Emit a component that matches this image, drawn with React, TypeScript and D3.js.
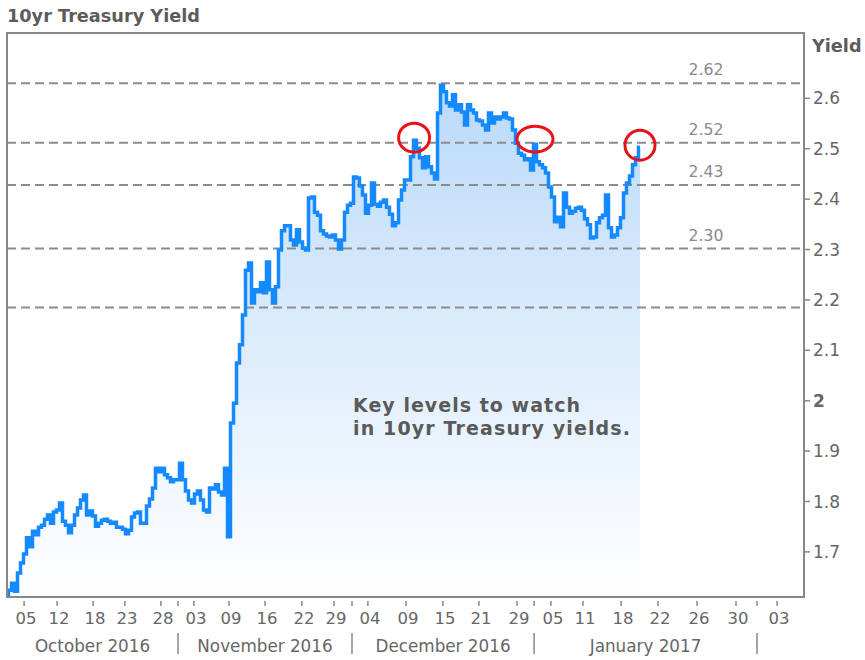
import React from "react";
import * as d3 from "d3";

// 10yr Treasury yield, equally spaced samples (session index 0..211)
const yields: number[] = [
  1.611, 1.624, 1.638, 1.622, 1.658, 1.678, 1.696, 1.728, 1.710, 1.741,
  1.734, 1.749, 1.753, 1.765, 1.773, 1.757, 1.779, 1.783, 1.797, 1.761,
  1.753, 1.738, 1.753, 1.773, 1.787, 1.803, 1.813, 1.773, 1.781, 1.771,
  1.751, 1.757, 1.763, 1.765, 1.761, 1.757, 1.759, 1.749, 1.749, 1.745,
  1.736, 1.743, 1.769, 1.777, 1.779, 1.757, 1.757, 1.791, 1.805, 1.827,
  1.866, 1.859, 1.866, 1.853, 1.847, 1.839, 1.843, 1.843, 1.876, 1.843,
  1.821, 1.803, 1.797, 1.815, 1.821, 1.803, 1.783, 1.779, 1.827, 1.825,
  1.833, 1.819, 1.813, 1.866, 1.730, 1.956, 1.995, 2.075, 2.111, 2.170,
  2.259, 2.273, 2.194, 2.220, 2.216, 2.234, 2.214, 2.275, 2.220, 2.194,
  2.226, 2.299, 2.337, 2.347, 2.347, 2.319, 2.309, 2.339, 2.315, 2.303,
  2.299, 2.402, 2.404, 2.374, 2.368, 2.337, 2.331, 2.327, 2.325, 2.329,
  2.319, 2.301, 2.319, 2.374, 2.388, 2.392, 2.444, 2.442, 2.426, 2.408,
  2.372, 2.388, 2.432, 2.390, 2.386, 2.394, 2.398, 2.384, 2.370, 2.347,
  2.353, 2.398, 2.418, 2.438, 2.438, 2.484, 2.517, 2.501, 2.482, 2.462,
  2.484, 2.464, 2.452, 2.440, 2.571, 2.626, 2.613, 2.591, 2.585, 2.607,
  2.577, 2.587, 2.573, 2.547, 2.587, 2.577, 2.571, 2.557, 2.555, 2.547,
  2.537, 2.571, 2.551, 2.563, 2.559, 2.563, 2.571, 2.561, 2.559, 2.537,
  2.511, 2.491, 2.487, 2.478, 2.480, 2.458, 2.509, 2.474, 2.468, 2.462,
  2.452, 2.424, 2.404, 2.355, 2.364, 2.345, 2.412, 2.384, 2.372, 2.376,
  2.382, 2.384, 2.378, 2.361, 2.349, 2.323, 2.325, 2.353, 2.363, 2.368,
  2.408, 2.343, 2.325, 2.329, 2.343, 2.363, 2.412, 2.432, 2.446, 2.468,
  2.482, 2.503,
];

// x axis: tick positions in session-index units and their day labels
const xTickPos = [5.7, 16.7, 28.7, 39.3, 51.3, 62.3, 74, 86, 98.3, 109, 120.3, 133, 145.3, 157.3, 170, 181.3, 192, 204.7, 217, 230, 243, 256.7];
const xTickLabels = ["05", "12", "18", "23", "28", "03", "09", "16", "22", "29", "04", "09", "15", "21", "29", "05", "11", "18", "22", "26", "30", "03"];
const monthBounds = [57, 115, 175.7, 250];
const monthLabels = ["October 2016", "November 2016", "December 2016", "January 2017"];

const yTicks = [1.7, 1.8, 1.9, 2.0, 2.1, 2.2, 2.3, 2.4, 2.5, 2.6];
const yTickLabels = ["1.7", "1.8", "1.9", "2", "2.1", "2.2", "2.3", "2.4", "2.5", "2.6"];

// key levels (dashed lines) and their labels
const levelValues = [2.63, 2.512, 2.428, 2.302, 2.185];
const levelLabels = ["2.62", "2.52", "2.43", "2.30", ""];

// red circle annotations (session index, yield)
const circleT = [135.7, 176, 211];
const circleV = [2.522, 2.519, 2.507];
const circleRx = [15.5, 18, 15];
const circleRy = [14.5, 13, 15];

const noteLines = ["Key levels to watch", "in 10yr Treasury yields."];

const W = 865;
const H = 660;
const L = 7, R = 804, T = 33, B = 597;
const FONT = "'DejaVu Sans', Verdana, sans-serif";

export default function App() {
  const x = d3.scaleLinear().domain([0, 265.67]).range([L, R]);
  const y = d3.scaleLinear().domain([1.6105, 2.7296]).range([B, T]);

  const line = d3
    .line<number>()
    .x((_, i) => x(i))
    .y((d) => y(d))
    .curve(d3.curveStep);
  const area = d3
    .area<number>()
    .x((_, i) => x(i))
    .y0(B)
    .y1((d) => y(d))
    .curve(d3.curveStep);

  const monthCenters = monthBounds.map((b, i) => ((i === 0 ? 0 : monthBounds[i - 1]) + b) / 2);

  return (
    <svg width={W} height={H} style={{ position: "absolute", left: 0, top: 0, background: "#fff" }}>
      <defs>
        <linearGradient id="fillGrad" gradientUnits="userSpaceOnUse" x1="0" y1={T} x2="0" y2={B}>
          <stop offset="0" stopColor="#b3d6f8" />
          <stop offset="1" stopColor="#ffffff" />
        </linearGradient>
        <clipPath id="plotClip">
          <rect x={L} y={T} width={R - L} height={B - T} />
        </clipPath>
      </defs>

      <text x={7} y={22} fontFamily={FONT} fontWeight="bold" fontSize={17.7} fill="#5c5c5c">
        10yr Treasury Yield
      </text>

      <g clipPath="url(#plotClip)">
        <path d={area(yields) || ""} fill="url(#fillGrad)" />
        {levelValues.map((v, i) => (
          <line key={"lv" + i} x1={L} x2={R} y1={y(v)} y2={y(v)} stroke="#8c8c8c" strokeWidth={2} strokeDasharray="9,5" />
        ))}
        <path d={line(yields) || ""} fill="none" stroke="#1589ff" strokeWidth={3.5} strokeLinejoin="miter" />
      </g>

      {levelLabels.map((lab, i) =>
        lab ? (
          <text key={"ll" + i} x={x(233)} y={y(levelValues[i]) - 8} textAnchor="middle" fontFamily={FONT} fontSize={15.7} fill="#8a8a8a">
            {lab}
          </text>
        ) : null
      )}

      {circleT.map((t, i) => (
        <ellipse key={"c" + i} cx={x(t)} cy={y(circleV[i])} rx={circleRx[i]} ry={circleRy[i]} fill="none" stroke="#e8121a" strokeWidth={3} />
      ))}

      <g fontFamily={FONT} fontWeight="bold" fontSize={19} fill="#5a5a5a">
        <text x={353} y={412} textLength={227} lengthAdjust="spacing">{noteLines[0]}</text>
        <text x={353} y={435} textLength={277} lengthAdjust="spacing">{noteLines[1]}</text>
      </g>

      <rect x={L} y={T} width={R - L} height={B - T} fill="none" stroke="#888" strokeWidth={2} />

      {/* y axis on the right */}
      <text x={812} y={52} fontFamily={FONT} fontWeight="bold" fontSize={17.7} fill="#5c5c5c">
        Yield
      </text>
      {yTicks.map((v, i) => (
        <g key={"yt" + i}>
          <line x1={R} x2={R + 6} y1={y(v)} y2={y(v)} stroke="#888" strokeWidth={1.5} />
          <text x={813} y={y(v)} dy="0.36em" fontFamily={FONT} fontSize={17} fontWeight={yTickLabels[i] === "2" ? "bold" : "normal"} fill="#666">
            {yTickLabels[i]}
          </text>
        </g>
      ))}

      {/* x axis */}
      {xTickPos.map((t, i) => (
        <g key={"xt" + i}>
          <line x1={x(t)} x2={x(t)} y1={B + 4} y2={B + 9} stroke="#888" strokeWidth={1.5} />
          <text x={x(t) + 2} y={624} textAnchor="middle" fontFamily={FONT} fontSize={16.5} fill="#666">
            {xTickLabels[i]}
          </text>
        </g>
      ))}
      {monthBounds.map((b, i) => (
        <g key={"mb" + i}>
          <line x1={x(b)} x2={x(b)} y1={B + 4} y2={B + 9} stroke="#888" strokeWidth={1.5} />
          <line x1={x(b)} x2={x(b)} y1={633} y2={654} stroke="#888" strokeWidth={1.5} />
        </g>
      ))}
      {monthLabels.map((m, i) => (
        <text key={"ml" + i} x={x(monthCenters[i])} y={652} textAnchor="middle" fontFamily={FONT} fontSize={16.8} fill="#666">
          {m}
        </text>
      ))}
    </svg>
  );
}
